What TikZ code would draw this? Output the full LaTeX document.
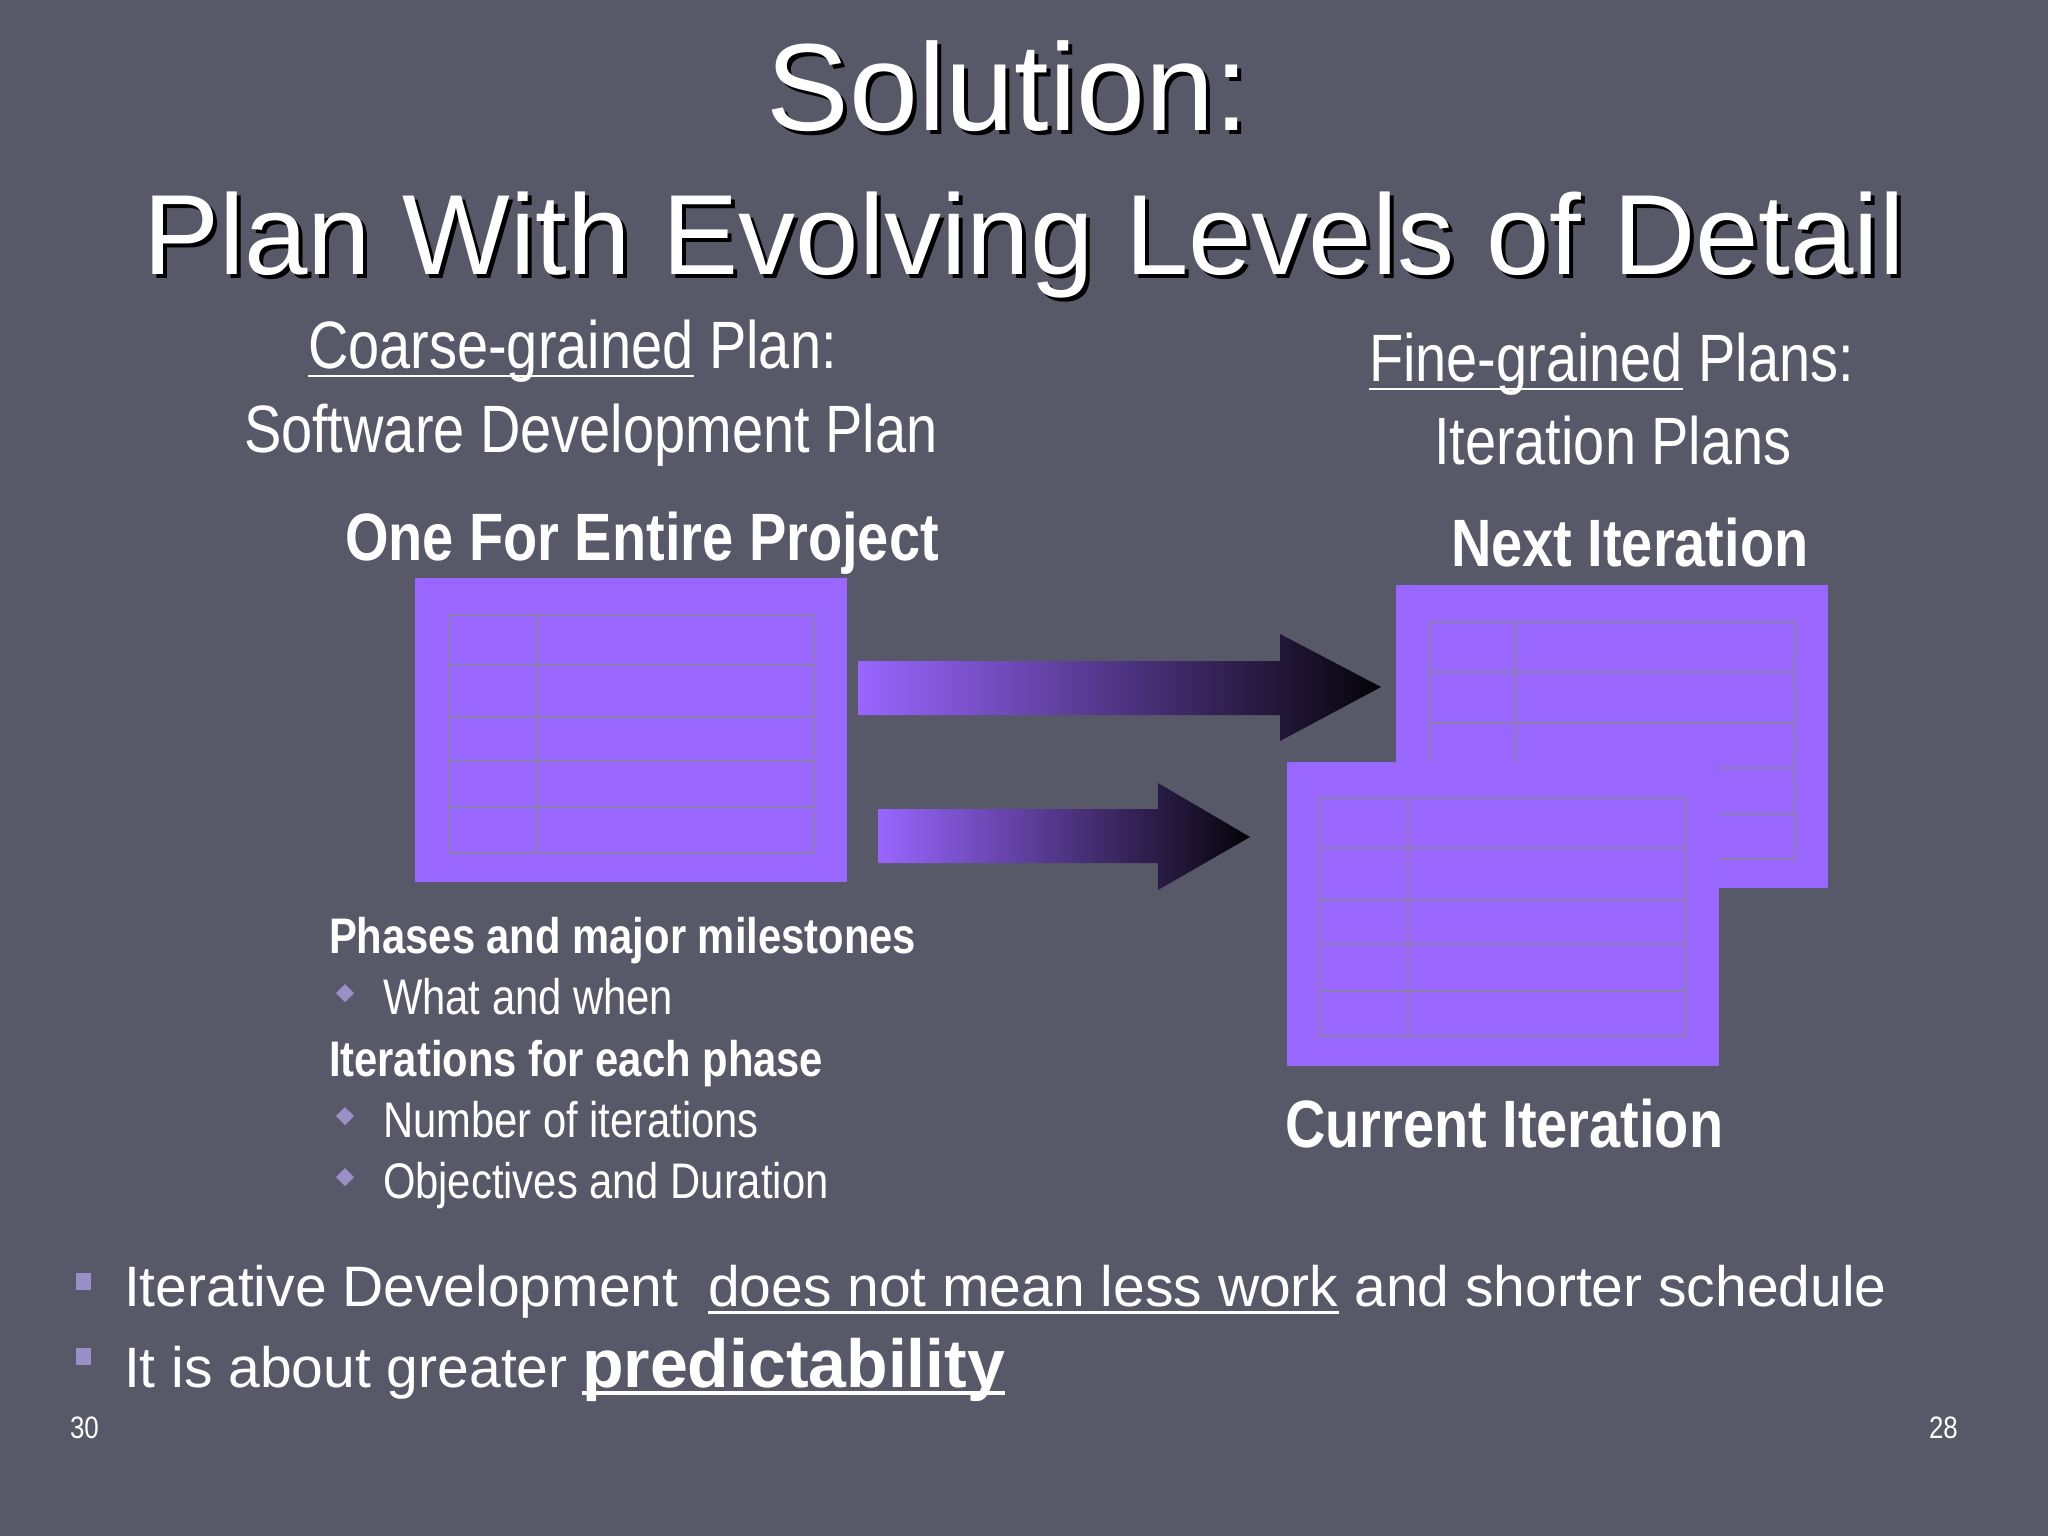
\documentclass[tikz,border=0pt]{standalone}
\usepackage{fontspec}
\setmainfont{Liberation Sans}
\newfontfamily\narrowfont[FakeStretch=0.835]{Liberation Sans}
\definecolor{bg}{RGB}{88,89,104}
\definecolor{planpurple}{RGB}{153,102,255}
\definecolor{gridline}{RGB}{140,126,172}
\definecolor{bulletc}{RGB}{155,143,200}
\definecolor{arrowend}{RGB}{5,3,8}
\tikzset{
  txt/.style={anchor=base west, inner sep=0pt, outer sep=0pt, text=white},
  titletxt/.style={anchor=base, inner sep=0pt, font=\fontsize{57pt}{60pt}\selectfont},
  bigtitletxt/.style={anchor=base, inner sep=0pt, font=\fontsize{62pt}{66pt}\selectfont},
  subhead/.style={txt, font=\narrowfont\fontsize{33.5pt}{36pt}\selectfont},
  bighead/.style={txt, font=\narrowfont\bfseries\fontsize{33.5pt}{36pt}\selectfont},
  listhead/.style={txt, font=\narrowfont\bfseries\fontsize{25pt}{28pt}\selectfont},
  listitem/.style={txt, font=\narrowfont\fontsize{25pt}{28pt}\selectfont},
  bottomtxt/.style={txt, font=\fontsize{28.5pt}{32pt}\selectfont},
  pagenum/.style={txt, font=\narrowfont\fontsize{15.5pt}{18pt}\selectfont},
  planbox/.style={fill=planpurple},
  gridlines/.style={draw=gridline, line width=1.3pt},
  uline/.style={white, line width=1.4pt},
  diamondbullet/.style={fill=bulletc},
  squarebullet/.style={fill=bulletc},
  blockarrow/.style={left color=planpurple, right color=arrowend}
}
\begin{document}
\begin{tikzpicture}[x=0.5pt,y=-0.5pt]
\fill[bg] (0,0) rectangle (2048,1536);
\useasboundingbox (0,0) rectangle (2048,1536);

% Title with shadow
\node[bigtitletxt, text=black] at (1012,134) {Solution:};
\node[bigtitletxt, text=white] (title1) at (1008,130) {Solution:};
\node[titletxt, text=black] at (1028,278) {Plan With Evolving Levels of Detail};
\node[titletxt, text=white] (title2) at (1024,274) {Plan With Evolving Levels of Detail};

% Left headings
\node[subhead] (cg) at (308,368) {Coarse-grained};
\node[subhead] (cgp) at (cg.base east) {\ Plan:};
\draw[uline] ([yshift=-4pt]cg.base west) -- ([yshift=-4pt]cg.base east);
\node[subhead] (sdp) at (244,452) {Software Development Plan};
\node[bighead] (one) at (345,560) {One For Entire Project};

% Right headings
\node[subhead] (fg) at (1369,381) {Fine-grained};
\node[subhead] (fgp) at (fg.base east) {\ Plans:};
\draw[uline] ([yshift=-4pt]fg.base west) -- ([yshift=-4pt]fg.base east);
\node[subhead] (ip) at (1434,464) {Iteration Plans};
\node[bighead] (next) at (1451,566) {Next Iteration};
\node[bighead] (cur) at (1285,1147) {Current Iteration};

% Left plan box
\fill[planbox] (415,578) rectangle (847,882);
\draw[gridlines] (449,615) rectangle (814,853);
\draw[gridlines] (537,615) -- (537,853);
\foreach \yy in {665,717,761,807} \draw[gridlines] (449,\yy) -- (814,\yy);

% Back plan box (next iteration)
\fill[planbox] (1396,585) rectangle (1828,888);
\draw[gridlines] (1430,622) rectangle (1795,859);
\draw[gridlines] (1516,622) -- (1516,859);
\foreach \yy in {672,723,768,814} \draw[gridlines] (1430,\yy) -- (1795,\yy);

% Front plan box (current iteration)
\fill[planbox] (1287,762) rectangle (1719,1066);
\draw[gridlines] (1320,798) rectangle (1686,1036);
\draw[gridlines] (1408,798) -- (1408,1036);
\foreach \yy in {848,900,944,991} \draw[gridlines] (1320,\yy) -- (1686,\yy);

% Block arrows
\shade[blockarrow] (858,661) -- (1280,661) -- (1280,634) -- (1381,687) -- (1280,741) -- (1280,715) -- (858,715) -- cycle;
\shade[blockarrow] (878,809) -- (1158,809) -- (1158,783) -- (1250,837) -- (1158,890) -- (1158,863) -- (878,863) -- cycle;

% Left list
\node[listhead] (ph) at (329,953) {Phases and major milestones};
\fill[diamondbullet] (345,984) -- (354,993) -- (345,1002) -- (336,993) -- cycle;
\node[listitem] (ww) at (383,1014) {What and when};
\node[listhead] (it) at (329,1076) {Iterations for each phase};
\fill[diamondbullet] (345,1107) -- (354,1116) -- (345,1125) -- (336,1116) -- cycle;
\node[listitem] (ni) at (383,1137) {Number of iterations};
\fill[diamondbullet] (345,1168) -- (354,1177) -- (345,1186) -- (336,1177) -- cycle;
\node[listitem] (od) at (383,1198) {Objectives and Duration};

% Bottom bullets
\fill[squarebullet] (76,1273) rectangle (91,1290);
\node[bottomtxt] (b1a) at (124,1306) {Iterative Development};
\node[bottomtxt] (b1b) at (708,1306) {does not mean less work};
\draw[uline, line width=1.5pt] ([yshift=-3pt]b1b.base west) -- ([yshift=-3pt]b1b.base east);
\node[bottomtxt] (b1c) at (b1b.base east) {\ and shorter schedule};
\fill[squarebullet] (76,1348) rectangle (91,1365);
\node[bottomtxt] (b2a) at (124,1387) {It is about greater};
\node[txt, font=\bfseries\fontsize{34pt}{38pt}\selectfont] (b2b) at (582,1387) {predictability};
\draw[uline, line width=2pt] ([yshift=-3pt]b2b.base west) -- ([yshift=-3pt]b2b.base east);

% Page numbers
\node[pagenum] (pn1) at (70,1438) {30};
\node[pagenum] (pn2) at (1929,1438) {28};
\end{tikzpicture}
\end{document}
